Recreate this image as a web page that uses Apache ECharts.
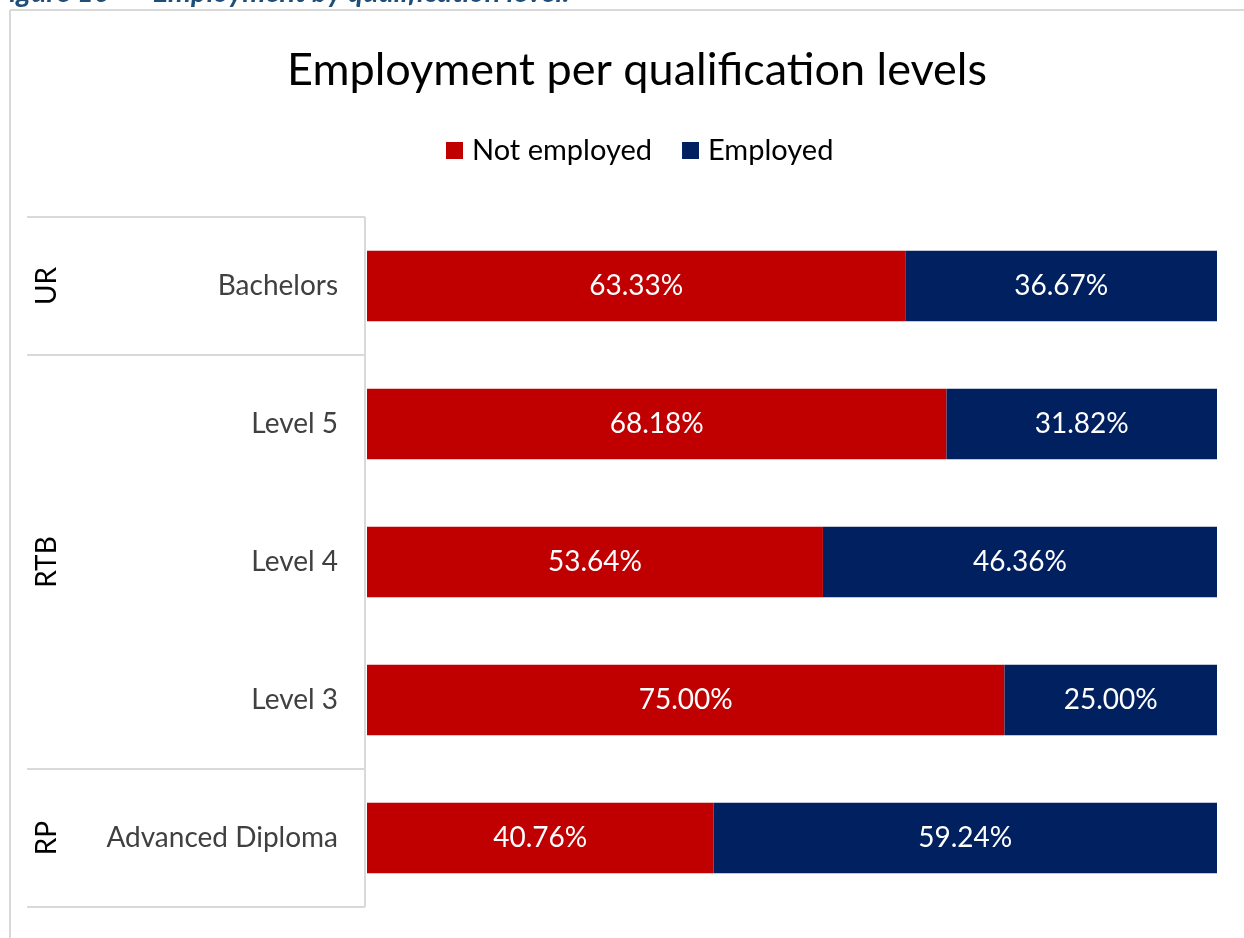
<!DOCTYPE html>
<html>
<head>
<meta charset="utf-8">
<style>
  html, body { margin: 0; padding: 0; background: #fff; }
  #chart { width: 1244px; height: 938px; }
</style>
<script src="https://cdn.jsdelivr.net/npm/echarts@6/dist/echarts.min.js"></script>
</head>
<body>
<div id="chart"></div>
<script>
// Qualification levels, top to bottom
const categories = ['Bachelors', 'Level 5', 'Level 4', 'Level 3', 'Advanced Diploma'];
// Institution groups and how many levels each one spans
const groupNames = ['UR', 'RTB', 'RP'];
const groupSizes = [1, 3, 1];
// Shares in percent
const notEmployed = [63.33, 68.18, 53.64, 75.00, 40.76];
const employed = [36.67, 31.82, 46.36, 25.00, 59.24];

const FONT = 'Lato, "Open Sans", sans-serif';
const LINE = '#d9d9d9';

const chart = echarts.init(document.getElementById('chart'));

const labelStyle = {
  show: true,
  position: 'inside',
  color: '#ffffff',
  fontSize: 28,
  fontFamily: FONT,
  formatter: p => p.value.toFixed(2) + '%'
};

chart.setOption({
  animation: false,
  title: {
    text: 'Employment per qualification levels',
    left: 632,
    textAlign: 'center',
    top: 43,
    textStyle: { fontSize: 45, fontWeight: 'normal', color: '#000', fontFamily: FONT }
  },
  legend: {
    top: 131,
    left: 441,
    itemWidth: 17,
    itemHeight: 17,
    itemGap: 30,
    icon: 'rect',
    textStyle: { fontSize: 29, color: '#000', fontFamily: FONT, padding: [0, 0, 0, 4] },
    data: ['Not employed', 'Employed']
  },
  grid: { left: 367, right: 27, top: 217, bottom: 31, containLabel: false },
  xAxis: {
    type: 'value', min: 0, max: 100, show: false
  },
  yAxis: {
    type: 'category',
    inverse: true,
    data: categories,
    axisLine: { show: false },
    axisTick: { show: false },
    axisLabel: { margin: 29, fontSize: 28, color: '#404040', fontFamily: FONT }
  },
  series: [
    {
      name: 'Not employed', type: 'bar', stack: 'total',
      data: notEmployed, barCategoryGap: '49%',
      itemStyle: { color: '#C00000' }, label: labelStyle
    },
    {
      name: 'Employed', type: 'bar', stack: 'total',
      data: employed, barCategoryGap: '49%',
      itemStyle: { color: '#002060' }, label: labelStyle
    }
  ]
});

// Group dividers and labels on the category axis, placed from the axis scale
function drawGroups() {
  const c0 = chart.convertToPixel({ yAxisIndex: 0 }, categories[0]);
  const c1 = chart.convertToPixel({ yAxisIndex: 0 }, categories[1]);
  const band = c1 - c0;
  const top = c0 - band / 2;
  const axisX = chart.convertToPixel({ xAxisIndex: 0 }, 0) - 2;
  const leftX = 27;
  const els = [];
  // outer frame of the figure
  els.push({ type: 'line', shape: { x1: 10, y1: 10, x2: 1244, y2: 10 }, style: { stroke: LINE, lineWidth: 2 } });
  els.push({ type: 'line', shape: { x1: 10, y1: 10, x2: 10, y2: 938 }, style: { stroke: LINE, lineWidth: 2 } });
  // caption of the figure, partly above the page
  els.push({
    type: 'text', x: -6, y: 7,
    style: {
      text: 'Figure 10  \u2013  Employment by qualification level.',
      fill: '#1F4E79', fontSize: 29, fontWeight: 'bold', fontStyle: 'italic',
      fontFamily: FONT, verticalAlign: 'bottom', align: 'left'
    }
  });
  let idx = 0;
  const bounds = [top];
  groupSizes.forEach((n, g) => {
    const y0 = top + idx * band;
    const y1 = top + (idx + n) * band;
    els.push({
      type: 'text', x: 47, y: (y0 + y1) / 2, rotation: Math.PI / 2,
      style: {
        text: groupNames[g], fill: '#000', fontSize: 28, fontFamily: FONT,
        align: 'center', verticalAlign: 'middle'
      }
    });
    idx += n;
    bounds.push(y1);
  });
  bounds.forEach(y => {
    els.push({ type: 'line', shape: { x1: leftX, y1: y, x2: axisX, y2: y }, style: { stroke: LINE, lineWidth: 2 } });
  });
  els.push({ type: 'line', shape: { x1: axisX, y1: bounds[0], x2: axisX, y2: bounds[bounds.length - 1] }, style: { stroke: LINE, lineWidth: 2 } });
  chart.setOption({ graphic: { elements: els } });
}
drawGroups();
</script>
</body>
</html>
